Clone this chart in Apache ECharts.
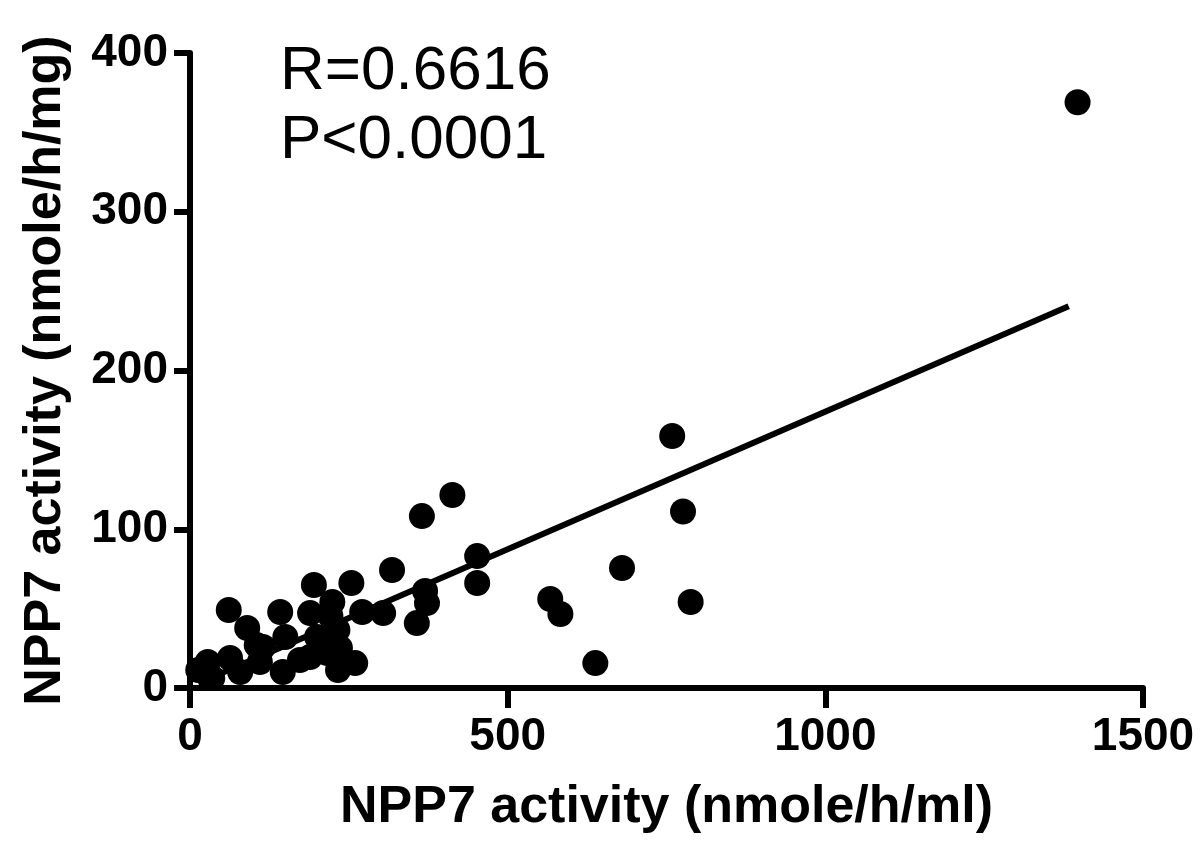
<!DOCTYPE html>
<html>
<head>
<meta charset="utf-8">
<script src="https://cdn.jsdelivr.net/npm/echarts@6/dist/echarts.min.js"></script>
<style>html,body{margin:0;padding:0;background:#fff;}#c{width:1200px;height:845px;}</style>
</head>
<body>
<div id="c"></div>
<script>
// NPP7 activity (nmole/h/ml) values
const xValues = [1397, 759, 776, 788, 680, 638, 567, 583, 413, 365, 452, 452, 318, 370, 373, 357, 304, 271, 254, 260,
  195, 224, 189, 142, 232, 150, 115, 200, 216, 189, 146, 233, 61, 90, 105, 110, 63, 28, 13, 35, 79, 236, 173, 221];
// NPP7 activity (nmole/h/mg) values
const yValues = [369, 158.7, 111.2, 54.2, 75.6, 15.7, 56.1, 46.6, 121.6, 108.3, 83.1, 66.1, 74.3, 61.1, 53.5, 40.9, 47.2, 47.9, 66.1, 15.7,
  64.9, 54.2, 47.2, 47.9, 36.5, 32.1, 25.8, 32.1, 22.0, 19.5, 10.1, 11.3, 49.1, 37.8, 27.1, 16.4, 18.9, 16.4, 11.3, 6.3, 10.1, 25.2, 17.6, 45.4];
// regression line end points
const fitX = [13, 1383];
const fitY = [3, 240.5];
const xTicks = [0, 500, 1000, 1500];
const yTicks = [0, 100, 200, 300, 400];
const statsText = ['R=0.6616', 'P<0.0001'];

const points = xValues.map((x, i) => [x, yValues[i]]);
const fitLine = fitX.map((x, i) => [x, fitY[i]]);

const chart = echarts.init(document.getElementById('c'), null, {renderer: 'canvas'});
const fontFam = '"Liberation Sans", Arial, sans-serif';
const axisCommon = {
  axisLine: {show: true, lineStyle: {color: '#000', width: 6}},
  axisTick: {show: true, length: 16, lineStyle: {color: '#000', width: 6}},
  splitLine: {show: false},
  axisLabel: {color: '#000', fontFamily: fontFam, fontWeight: 'bold', fontSize: 46, formatter: v => String(v)},
  nameLocation: 'middle',
  nameTextStyle: {color: '#000', fontFamily: fontFam, fontWeight: 'bold', fontSize: 52}
};
chart.setOption({
  animation: false,
  backgroundColor: '#fff',
  grid: {left: 190, right: 57, top: 53, bottom: 157, containLabel: false},
  xAxis: Object.assign({}, axisCommon, {
    type: 'value', min: xTicks[0], max: xTicks[xTicks.length - 1], interval: 500,
    name: 'NPP7 activity (nmole/h/ml)', nameGap: 94,
    axisLabel: Object.assign({}, axisCommon.axisLabel, {margin: 26}),
    axisTick: {show: true, length: 20, lineStyle: {color: '#000', width: 6}}
  }),
  yAxis: Object.assign({}, axisCommon, {
    type: 'value', min: yTicks[0], max: yTicks[yTicks.length - 1], interval: 100,
    name: 'NPP7 activity (nmole/h/mg)', nameGap: 118,
    axisLabel: Object.assign({}, axisCommon.axisLabel, {margin: 22})
  }),
  graphic: [
    {type: 'text', left: 280, top: 41, style: {text: statsText[0], font: '62px "Liberation Sans", Arial, sans-serif', fill: '#000'}},
    {type: 'text', left: 280, top: 110, style: {text: statsText[1], font: '62px "Liberation Sans", Arial, sans-serif', fill: '#000'}}
  ],
  series: [
    {type: 'line', data: fitLine, symbol: 'none', lineStyle: {color: '#000', width: 6}, z: 2},
    {type: 'scatter', data: points, symbol: 'circle', symbolSize: 26, itemStyle: {color: '#000', opacity: 1}, z: 3}
  ]
});
</script>
</body>
</html>
